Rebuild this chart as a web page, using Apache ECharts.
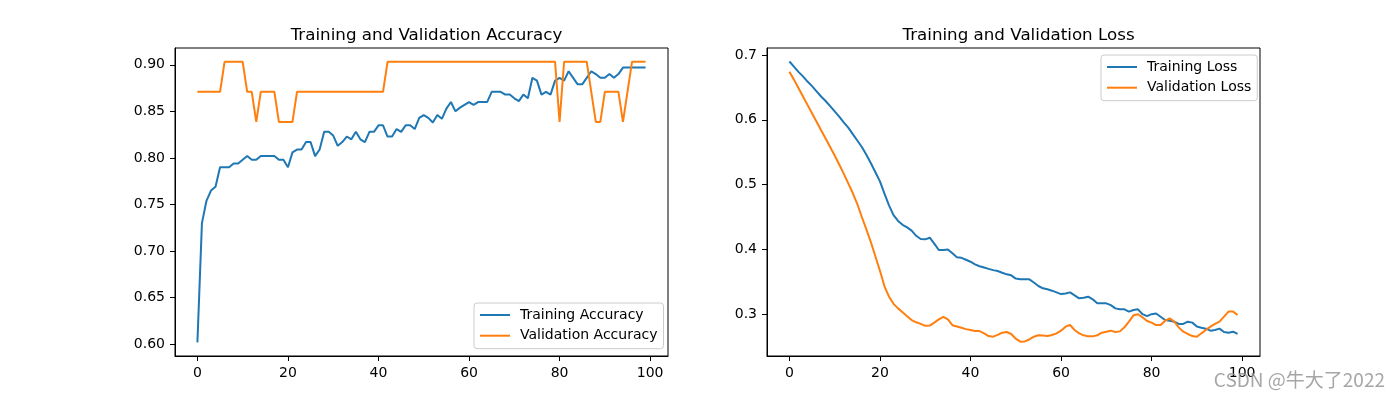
<!DOCTYPE html>
<html>
<head>
<meta charset="utf-8">
<script src="https://cdn.jsdelivr.net/npm/echarts@6/dist/echarts.min.js"></script>
<style>
html,body{margin:0;padding:0;background:#fff;}
#chart{width:1400px;height:400px;}
</style>
</head>
<body>
<div id="chart"></div>
<script>
// ---- data ----
const trainAcc = [0.602,0.730,0.754,0.765,0.769,0.790,0.790,0.790,0.794,0.794,
0.798,0.802,0.798,0.798,0.802,0.802,0.802,0.802,0.798,0.798,
0.790,0.806,0.809,0.809,0.817,0.817,0.802,0.809,0.828,0.828,
0.824,0.813,0.817,0.823,0.820,0.828,0.820,0.817,0.828,0.828,
0.835,0.835,0.823,0.823,0.831,0.828,0.835,0.835,0.831,0.843,
0.846,0.843,0.838,0.846,0.842,0.853,0.860,0.850,0.854,0.857,
0.860,0.857,0.860,0.860,0.860,0.871,0.871,0.871,0.868,0.868,
0.864,0.861,0.868,0.864,0.886,0.883,0.868,0.871,0.868,0.883,
0.886,0.883,0.893,0.886,0.879,0.879,0.886,0.893,0.890,0.886,
0.886,0.890,0.886,0.890,0.897,0.897,0.897,0.897,0.897,0.897];
const valAcc = [0.8710,0.8710,0.8710,0.8710,0.8710,0.8710,0.9032,0.9032,0.9032,0.9032,
0.9032,0.8710,0.8710,0.8387,0.8710,0.8710,0.8710,0.8710,0.8387,0.8387,
0.8387,0.8387,0.8710,0.8710,0.8710,0.8710,0.8710,0.8710,0.8710,0.8710,
0.8710,0.8710,0.8710,0.8710,0.8710,0.8710,0.8710,0.8710,0.8710,0.8710,
0.8710,0.8710,0.9032,0.9032,0.9032,0.9032,0.9032,0.9032,0.9032,0.9032,
0.9032,0.9032,0.9032,0.9032,0.9032,0.9032,0.9032,0.9032,0.9032,0.9032,
0.9032,0.9032,0.9032,0.9032,0.9032,0.9032,0.9032,0.9032,0.9032,0.9032,
0.9032,0.9032,0.9032,0.9032,0.9032,0.9032,0.9032,0.9032,0.9032,0.9032,
0.8387,0.9032,0.9032,0.9032,0.9032,0.9032,0.9032,0.8710,0.8387,0.8387,
0.8710,0.8710,0.8710,0.8710,0.8387,0.8710,0.9032,0.9032,0.9032,0.9032];
const trainLoss = [0.690,0.682,0.674,0.667,0.659,0.652,0.644,0.636,0.629,0.621,
0.613,0.605,0.596,0.588,0.578,0.568,0.558,0.546,0.533,0.519,
0.505,0.486,0.468,0.453,0.444,0.438,0.434,0.429,0.421,0.416,
0.4155,0.418,0.409,0.399,0.399,0.400,0.394,0.388,0.387,0.384,
0.381,0.377,0.374,0.372,0.370,0.368,0.3667,0.364,0.3615,0.360,
0.355,0.3538,0.3538,0.3538,0.349,0.3435,0.340,0.3384,0.3363,0.3337,
0.331,0.332,0.3337,0.329,0.3245,0.3255,0.327,0.323,0.3168,0.3168,
0.3168,0.314,0.309,0.3075,0.3075,0.304,0.3065,0.3075,0.300,0.297,
0.300,0.301,0.296,0.291,0.290,0.2885,0.285,0.285,0.2885,0.287,
0.281,0.2792,0.2777,0.2746,0.2756,0.2777,0.2725,0.2715,0.273,0.2695];
const valLoss = [0.674,0.662,0.649,0.636,0.623,0.610,0.597,0.584,0.571,0.558,
0.545,0.531,0.517,0.502,0.487,0.470,0.450,0.431,0.411,0.389,
0.367,0.343,0.327,0.316,0.309,0.303,0.297,0.291,0.2875,0.285,
0.282,0.2825,0.287,0.292,0.296,0.292,0.283,0.281,0.279,0.277,
0.2756,0.274,0.274,0.2705,0.2663,0.2653,0.268,0.2715,0.2725,0.2695,
0.2622,0.2576,0.258,0.261,0.2653,0.2674,0.267,0.2663,0.268,0.2705,
0.2746,0.2808,0.2833,0.2756,0.2705,0.2674,0.2658,0.2658,0.2674,0.2715,
0.273,0.2746,0.2725,0.2735,0.2797,0.2885,0.2983,0.300,0.2952,0.2895,
0.287,0.2833,0.2833,0.290,0.2936,0.2885,0.2797,0.273,0.2695,0.2663,
0.2653,0.2705,0.2756,0.2808,0.285,0.2885,0.2962,0.304,0.304,0.2988];
const xTicks = [0,20,40,60,80,100];
const accTicks = [0.60,0.65,0.70,0.75,0.80,0.85,0.90];
const lossTicks = [0.3,0.4,0.5,0.6,0.7];
const titles = ['Training and Validation Accuracy','Training and Validation Loss'];
const accNames = ['Training Accuracy','Validation Accuracy'];
const lossNames = ['Training Loss','Validation Loss'];
const watermark = 'CSDN @牛大了2022';

// ---- chart ----
const FONT = 'DejaVu Sans';
const BLUE = '#1f77b4', ORANGE = '#ff7f0e';
const toPairs = arr => arr.map((v, i) => [i, v]);

function xAxis(gi) {
  return {
    gridIndex: gi, type: 'value', min: -4.95, max: 103.95,
    axisLine: {show: true, onZero: false, lineStyle: {color: '#000', width: 1}},
    splitLine: {show: false},
    axisTick: {show: true, inside: false, length: 5, lineStyle: {color: '#000', width: 1}, customValues: xTicks},
    axisLabel: {customValues: xTicks, color: '#000', fontSize: 14, fontFamily: FONT, margin: 10,
      formatter: v => String(Math.round(v))}
  };
}
function yAxis(gi, min, max, ticks, dec) {
  return {
    gridIndex: gi, type: 'value', min: min, max: max,
    axisLine: {show: true, onZero: false, lineStyle: {color: '#000', width: 1}},
    splitLine: {show: false},
    axisTick: {show: true, inside: false, length: 5, lineStyle: {color: '#000', width: 1}, customValues: ticks},
    axisLabel: {customValues: ticks, color: '#000', fontSize: 14, fontFamily: FONT, margin: 10,
      formatter: v => v.toFixed(dec)}
  };
}
function legend(names, left, top) {
  return {
    data: names, orient: 'vertical', left: left, top: top,
    itemWidth: 30, itemHeight: 14, itemGap: 6.7,
    padding: [5, 6, 6, 5],
    backgroundColor: 'rgba(255,255,255,0.8)', borderColor: '#cccccc', borderWidth: 1, borderRadius: 3,
    itemStyle: {opacity: 0},
    lineStyle: {width: 2},
    textStyle: {fontFamily: FONT, fontSize: 14, color: '#000', padding: [0, 0, 0, 5]},
    selectedMode: false
  };
}
function line(name, data, color, xi) {
  return {
    name: name, type: 'line', xAxisIndex: xi, yAxisIndex: xi,
    data: toPairs(data), symbol: 'none', showSymbol: false,
    lineStyle: {color: color, width: 2}, itemStyle: {color: color},
    z: 3
  };
}

const chart = echarts.init(document.getElementById('chart'), null, {renderer: 'canvas'});
chart.setOption({
  animation: false,
  backgroundColor: '#fff',
  title: [
    {text: titles[0], left: 421.5, top: 22, textAlign: 'center',
     textStyle: {fontFamily: FONT, fontSize: 16.7, fontWeight: 'normal', color: '#000'}},
    {text: titles[1], left: 1013.5, top: 22, textAlign: 'center',
     textStyle: {fontFamily: FONT, fontSize: 16.7, fontWeight: 'normal', color: '#000'}}
  ],
  grid: [
    {left: 175, top: 48, width: 493, height: 308, show: true, borderColor: '#000', borderWidth: 1, backgroundColor: 'transparent'},
    {left: 767, top: 48, width: 493, height: 308, show: true, borderColor: '#000', borderWidth: 1, backgroundColor: 'transparent'}
  ],
  xAxis: [xAxis(0), xAxis(1)],
  yAxis: [yAxis(0, 0.5874, 0.918, accTicks, 2), yAxis(1, 0.2355, 0.7108, lossTicks, 1)],
  legend: [legend(accNames, 474, 303), legend(lossNames, 1101, 55)],
  series: [
    line(accNames[0], trainAcc, BLUE, 0),
    line(accNames[1], valAcc, ORANGE, 0),
    line(lossNames[0], trainLoss, BLUE, 1),
    line(lossNames[1], valLoss, ORANGE, 1)
  ],
  graphic: [
    {type: 'text', right: 15, top: 370, z: 100,
     style: {text: watermark, font: '19px "Noto Sans CJK SC"', fill: 'rgba(150,150,150,0.85)'}}
  ]
});
</script>
</body>
</html>
